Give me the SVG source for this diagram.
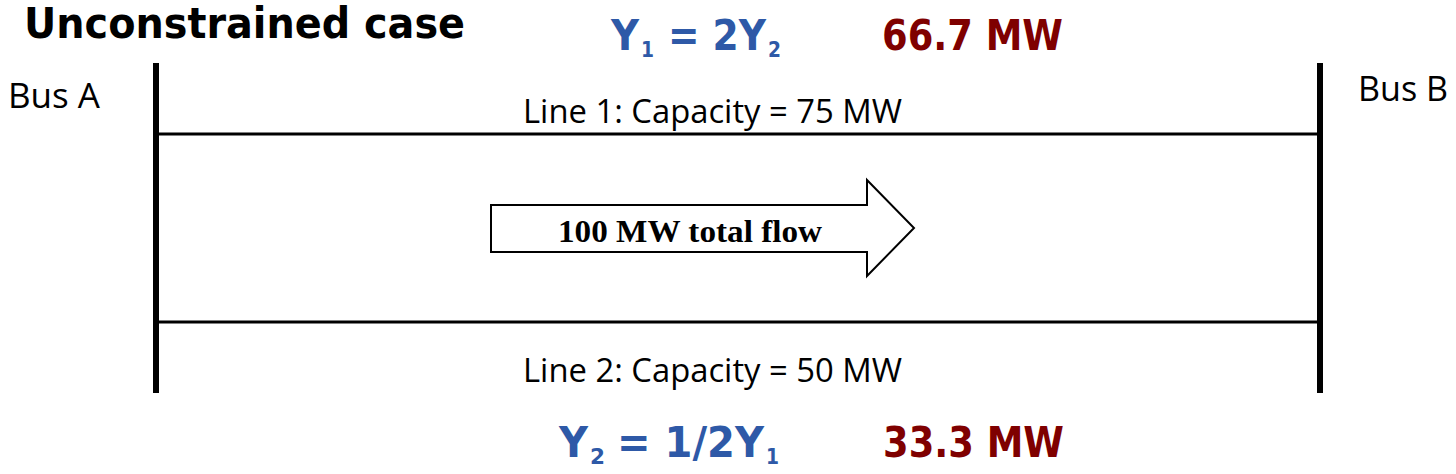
<svg xmlns="http://www.w3.org/2000/svg" width="1456" height="474" viewBox="0 0 1456 474">
<style>
.title{font-family:"DejaVu Sans",Verdana,sans-serif;font-weight:bold;font-size:42px;fill:#000}
.bus{font-family:"Open Sans","Noto Sans",sans-serif;font-size:34px;fill:#000}
.line-lbl{font-family:"Open Sans","Noto Sans",sans-serif;font-size:33px;fill:#000}
.eq{font-family:"DejaVu Sans",Verdana,sans-serif;font-weight:bold;font-size:43px;fill:#2E59A7}
.mw{font-family:"DejaVu Sans",Verdana,sans-serif;font-weight:bold;font-size:43px;fill:#7F0000}
.sub{font-size:21px}
.flow{font-family:"Liberation Serif","Times New Roman",serif;font-weight:bold;font-size:32px;fill:#000}
.busbar{fill:#000}
.wire{stroke:#000;stroke-width:3;fill:none}
</style>
<rect width="1456" height="474" fill="#fff"/>
<text class="title" x="24" y="38" textLength="441" lengthAdjust="spacingAndGlyphs">Unconstrained case</text>
<g id="busA">
  <rect class="busbar" x="153" y="63" width="6" height="330"/>
  <text class="bus" x="8" y="108" textLength="92" lengthAdjust="spacingAndGlyphs">Bus A</text>
</g>
<g id="busB">
  <rect class="busbar" x="1317" y="63" width="6" height="330"/>
  <text class="bus" x="1358" y="101" textLength="90" lengthAdjust="spacingAndGlyphs">Bus B</text>
</g>
<g id="connectors">
  <line id="line1" class="wire" x1="159" y1="134" x2="1317" y2="134"/>
  <line id="line2" class="wire" x1="159" y1="322" x2="1317" y2="322"/>
</g>
<g id="line1-labels">
  <text class="line-lbl" x="523" y="123" textLength="379" lengthAdjust="spacingAndGlyphs">Line 1: Capacity = 75 MW</text>
  <text class="eq"><tspan x="611" y="50" textLength="28" lengthAdjust="spacingAndGlyphs">Y</tspan><tspan class="sub" x="641" y="57" textLength="13" lengthAdjust="spacingAndGlyphs">1</tspan><tspan x="668" y="50" textLength="98" lengthAdjust="spacingAndGlyphs">= 2Y</tspan><tspan class="sub" x="768" y="57" textLength="13" lengthAdjust="spacingAndGlyphs">2</tspan></text>
  <text class="mw" x="882" y="50" textLength="181" lengthAdjust="spacingAndGlyphs">66.7 MW</text>
</g>
<g id="line2-labels">
  <text class="line-lbl" x="523" y="382" textLength="379" lengthAdjust="spacingAndGlyphs">Line 2: Capacity = 50 MW</text>
  <text class="eq"><tspan x="559" y="457" textLength="29" lengthAdjust="spacingAndGlyphs">Y</tspan><tspan class="sub" x="590" y="464" textLength="15" lengthAdjust="spacingAndGlyphs">2</tspan><tspan x="617" y="457" textLength="147" lengthAdjust="spacingAndGlyphs">= 1/2Y</tspan><tspan class="sub" x="766" y="464" textLength="13" lengthAdjust="spacingAndGlyphs">1</tspan></text>
  <text class="mw" x="883" y="457" textLength="181" lengthAdjust="spacingAndGlyphs">33.3 MW</text>
</g>
<g id="flow-arrow">
  <polygon points="491,205 867,205 867,180 914,228 867,276 867,252 491,252" fill="#fff" stroke="#000" stroke-width="2"/>
  <text class="flow" x="558" y="242" textLength="264" lengthAdjust="spacingAndGlyphs">100 MW total flow</text>
</g>
</svg>
